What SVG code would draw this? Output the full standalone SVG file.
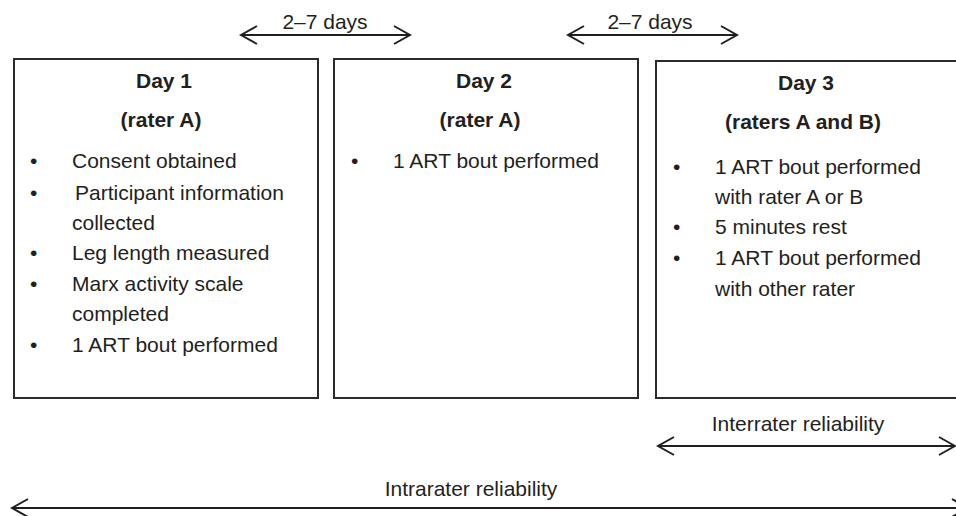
<svg xmlns="http://www.w3.org/2000/svg" width="956" height="516" viewBox="0 0 956 516">
<style>
  .box { fill: #fff; stroke: #2b2b2b; stroke-width: 2; }
  .t { font-family: "Liberation Sans", Arial, sans-serif; font-size: 21px; fill: #231f20; }
  .b { font-weight: bold; text-anchor: middle; }
  .c { text-anchor: middle; }
  .conn { stroke: #231f20; stroke-width: 2; fill: none; }
</style>
<defs>
  <marker id="head" markerUnits="userSpaceOnUse" viewBox="-18 -11 20 22" refX="0" refY="0" markerWidth="20" markerHeight="22" orient="auto-start-reverse">
    <polyline points="-16,-9 0,0 -16,9" fill="none" stroke="#231f20" stroke-width="2"/>
  </marker>
</defs>
<rect width="956" height="516" fill="#fff"/>

<g id="day1">
  <rect class="box" x="14" y="59" width="304" height="339"/>
  <text class="t b" x="164" y="88">Day 1</text>
  <text class="t b" x="161" y="127">(rater A)</text>
  <text class="t" x="30" y="168">•</text>
  <text class="t" x="72" y="168">Consent obtained</text>
  <text class="t" x="30" y="200">•</text>
  <text class="t" x="75" y="200">Participant information</text>
  <text class="t" x="72" y="230">collected</text>
  <text class="t" x="30" y="260">•</text>
  <text class="t" x="72" y="260">Leg length measured</text>
  <text class="t" x="30" y="291">•</text>
  <text class="t" x="72" y="291">Marx activity scale</text>
  <text class="t" x="72" y="321">completed</text>
  <text class="t" x="30" y="352">•</text>
  <text class="t" x="72" y="352">1 ART bout performed</text>
</g>

<g id="day2">
  <rect class="box" x="334" y="59" width="304" height="339"/>
  <text class="t b" x="484" y="88">Day 2</text>
  <text class="t b" x="480" y="127">(rater A)</text>
  <text class="t" x="351" y="168">•</text>
  <text class="t" x="393" y="168">1 ART bout performed</text>
</g>

<g id="day3">
  <rect class="box" x="656" y="61" width="304" height="337"/>
  <text class="t b" x="806" y="90">Day 3</text>
  <text class="t b" x="803" y="129">(raters A and B)</text>
  <text class="t" x="673" y="174">•</text>
  <text class="t" x="715" y="174">1 ART bout performed</text>
  <text class="t" x="715" y="204">with rater A or B</text>
  <text class="t" x="673" y="234">•</text>
  <text class="t" x="715" y="234">5 minutes rest</text>
  <text class="t" x="673" y="265">•</text>
  <text class="t" x="715" y="265">1 ART bout performed</text>
  <text class="t" x="715" y="296">with other rater</text>
</g>

<g id="connectors">
  <line class="conn" x1="241" y1="35" x2="410" y2="35" marker-start="url(#head)" marker-end="url(#head)"/>
  <text class="t c" x="325" y="29">2–7 days</text>
  <line class="conn" x1="568" y1="35" x2="737" y2="35" marker-start="url(#head)" marker-end="url(#head)"/>
  <text class="t c" x="650" y="29">2–7 days</text>
  <line class="conn" x1="658" y1="446" x2="955" y2="446" marker-start="url(#head)" marker-end="url(#head)"/>
  <text class="t c" x="798" y="431">Interrater reliability</text>
  <line class="conn" x1="12" y1="508" x2="968" y2="508" marker-start="url(#head)" marker-end="url(#head)"/>
  <text class="t c" x="471" y="496">Intrarater reliability</text>
</g>
</svg>
